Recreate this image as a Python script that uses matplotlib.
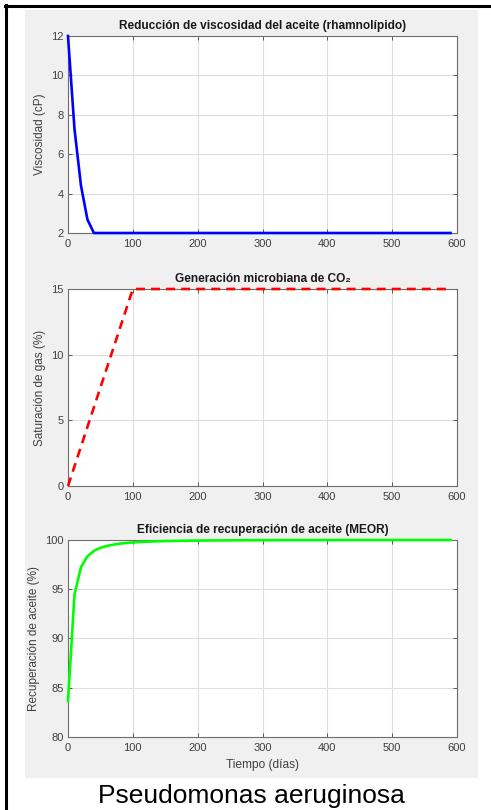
import matplotlib
matplotlib.use("Agg")
import matplotlib.pyplot as plt
from matplotlib.patches import Rectangle
from matplotlib.lines import Line2D

plt.rcParams['font.family'] = ['Liberation Sans', 'DejaVu Sans']

# Tiempo de simulación (días)
tiempo = [0, 10, 20, 30, 40, 50, 60, 70, 80, 90,
          100, 110, 120, 130, 140, 150, 160, 170, 180, 190,
          200, 210, 220, 230, 240, 250, 260, 270, 280, 290,
          300, 310, 320, 330, 340, 350, 360, 370, 380, 390,
          400, 410, 420, 430, 440, 450, 460, 470, 480, 490,
          500, 510, 520, 530, 540, 550, 560, 570, 580, 590]

# Viscosidad del aceite (cP)
viscosidad = [12.0, 7.28, 4.41, 2.68, 2.0, 2.0, 2.0, 2.0, 2.0, 2.0,
              2.0, 2.0, 2.0, 2.0, 2.0, 2.0, 2.0, 2.0, 2.0, 2.0,
              2.0, 2.0, 2.0, 2.0, 2.0, 2.0, 2.0, 2.0, 2.0, 2.0,
              2.0, 2.0, 2.0, 2.0, 2.0, 2.0, 2.0, 2.0, 2.0, 2.0,
              2.0, 2.0, 2.0, 2.0, 2.0, 2.0, 2.0, 2.0, 2.0, 2.0,
              2.0, 2.0, 2.0, 2.0, 2.0, 2.0, 2.0, 2.0, 2.0, 2.0]

# Saturación de gas CO2 (%)
saturacion_gas = [0.0, 1.5, 3.0, 4.5, 6.0, 7.5, 9.0, 10.5, 12.0, 13.5,
                  15.0, 15.0, 15.0, 15.0, 15.0, 15.0, 15.0, 15.0, 15.0, 15.0,
                  15.0, 15.0, 15.0, 15.0, 15.0, 15.0, 15.0, 15.0, 15.0, 15.0,
                  15.0, 15.0, 15.0, 15.0, 15.0, 15.0, 15.0, 15.0, 15.0, 15.0,
                  15.0, 15.0, 15.0, 15.0, 15.0, 15.0, 15.0, 15.0, 15.0, 15.0,
                  15.0, 15.0, 15.0, 15.0, 15.0, 15.0, 15.0, 15.0, 15.0, 15.0]

# Recuperación de aceite (%)
recuperacion = [83.66, 94.45, 97.25, 98.35, 98.90, 99.20, 99.40, 99.53, 99.63, 99.70,
                99.75, 99.79, 99.82, 99.85, 99.87, 99.89, 99.90, 99.91, 99.92, 99.93,
                99.94, 99.95, 99.95, 99.96, 99.96, 99.97, 99.97, 99.97, 99.98, 99.98,
                99.98, 99.98, 99.98, 99.99, 99.99, 99.99, 99.99, 99.99, 99.99, 99.99,
                99.99, 99.99, 99.99, 100.0, 100.0, 100.0, 100.0, 100.0, 100.0, 100.0,
                100.0, 100.0, 100.0, 100.0, 100.0, 100.0, 100.0, 100.0, 100.0, 100.0]

titulos = ["Reducción de viscosidad del aceite (rhamnolípido)",
           "Generación microbiana de CO₂",
           "Eficiencia de recuperación de aceite (MEOR)"]
etiquetas_y = ["Viscosidad (cP)", "Saturación de gas (%)", "Recuperación de aceite (%)"]
etiqueta_x = "Tiempo (días)"
organismo = "Pseudomonas aeruginosa"

x_ticks = [0, 100, 200, 300, 400, 500, 600]
y_ticks = [[2, 4, 6, 8, 10, 12], [0, 5, 10, 15], [80, 85, 90, 95, 100]]
y_lims = [(2, 12), (0, 15), (80, 100)]

W, H = 491, 810
fig = plt.figure(figsize=(W / 100, H / 100), dpi=100)
fig.patch.set_facecolor('white')

# Gray figure panel
fig.add_artist(Rectangle((25 / W, 1 - 778 / H), 453 / W, 768 / H,
                         transform=fig.transFigure, facecolor='#f0f0f0',
                         edgecolor='none', zorder=0))
# Black frame lines (top and left)
fig.add_artist(Line2D([5 / W, 1.0], [1 - 6 / H, 1 - 6 / H], transform=fig.transFigure,
                      color='black', lw=2.2, zorder=1))
fig.add_artist(Line2D([6 / W, 6 / W], [0.0, 1 - 5 / H], transform=fig.transFigure,
                      color='black', lw=2.2, zorder=1))

ax_left, ax_right = 68, 457
ax_boxes = [(36, 233), (289, 486), (540, 737)]
axes = []
for (top, bot) in ax_boxes:
    ax = fig.add_axes([ax_left / W, 1 - bot / H, (ax_right - ax_left) / W, (bot - top) / H])
    axes.append(ax)

series = [viscosidad, saturacion_gas, recuperacion]
styles = [dict(color='#0000ff', lw=1.9, ls='-'),
          dict(color='#ff0000', lw=1.9, ls=(0, (3.4, 2.3))),
          dict(color='#00ff00', lw=1.9, ls='-')]

for i, ax in enumerate(axes):
    ax.set_facecolor('white')
    ax.plot(tiempo, series[i], clip_on=False, zorder=5, **styles[i])
    ax.set_xlim(0, 600)
    ax.set_ylim(*y_lims[i])
    ax.set_xticks(x_ticks)
    ax.set_yticks(y_ticks[i])
    ax.grid(True, color='#dedede', lw=0.8)
    ax.set_axisbelow(True)
    for s in ax.spines.values():
        s.set_color('#6e6e6e')
        s.set_linewidth(0.8)
    ax.tick_params(direction='in', length=3, width=0.7, color='#555555',
                   labelsize=8, labelcolor='#404040', top=True, right=True)
    ax.tick_params(axis='x', pad=4.5)
    ax.tick_params(axis='y', pad=3)
    ax.set_title(titulos[i], fontsize=8.6, fontweight='bold', color='#1a1a1a', pad=5)
    ax.set_ylabel(etiquetas_y[i], fontsize=8.5, color='#404040', labelpad=4)

axes[2].set_xlabel(etiqueta_x, fontsize=8.6, color='#404040', labelpad=4)

fig.text(251 / W, 1 - 796 / H, organismo, fontsize=19, ha='center', va='center',
         color='black')

fig.savefig('out.png', dpi=100)
